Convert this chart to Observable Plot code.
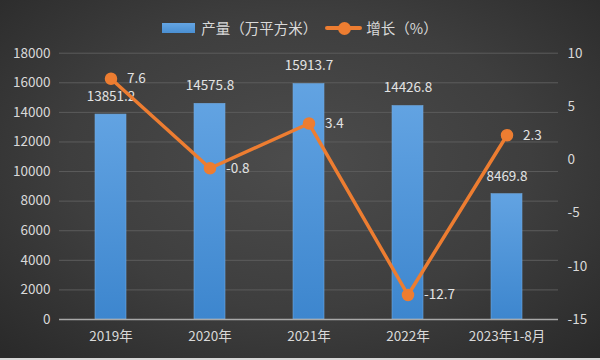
<!DOCTYPE html>
<html>
<head>
<meta charset="utf-8">
<script src="https://cdn.jsdelivr.net/npm/d3@7"></script>
<script src="https://cdn.jsdelivr.net/npm/@observablehq/plot@0.6"></script>
<style>
  html, body { margin: 0; padding: 0; }
  #chart {
    width: 600px; height: 360px; position: relative; overflow: hidden;
    background: radial-gradient(ellipse 70% 75% at 50% 45%, #4c4c4c 0%, #3e3e3e 55%, #2a2a2a 100%);
    font-family: "Noto Sans CJK SC", "Noto Sans", sans-serif;
    color: #d9d9d9;
    box-sizing: border-box;
    border-bottom: 2px solid #d8d8d8;
  }
  #legend {
    height: 40px; box-sizing: border-box; padding-top: 16px;
    display: flex; justify-content: center; align-items: center;
    font-size: 14.5px; line-height: 16px; color: #d9d9d9;
  }
  .item { display: flex; align-items: center; }
  .sw-bar { width: 33px; height: 10px; background: linear-gradient(#64a5e3, #4a8fd2); margin-right: 6px; }
  .sw-line { position: relative; width: 37px; height: 4px; background: #ed7d31; margin: 0 4px 0 8px; border-radius: 2px; }
  .sw-line::after { content: ""; position: absolute; left: 12.5px; top: -4.5px; width: 13px; height: 13px; border-radius: 50%; background: #ed7d31; }
  #plot svg { display: block; }
</style>
</head>
<body>
<div id="chart">
  <div id="legend">
    <div class="item"><div class="sw-bar"></div><span>产量（万平方米）</span></div>
    <div class="item"><div class="sw-line"></div><span>增长（%）</span></div>
  </div>
  <div id="plot"></div>
</div>
<script>
const categories = ["2019年", "2020年", "2021年", "2022年", "2023年1-8月"];
const output = [13851.2, 14575.8, 15913.7, 14426.8, 8469.8];
const growth = [7.6, -0.8, 3.4, -12.7, 2.3];
const leftTicks = [0, 2000, 4000, 6000, 8000, 10000, 12000, 14000, 16000, 18000];
const rightTicks = [-15, -10, -5, 0, 5, 10];
const leftDomain = [0, 18000];
const rightDomain = [-15, 10];

// map growth (right axis) onto the left-axis value space
const toLeft = v => (v - rightDomain[0]) / (rightDomain[1] - rightDomain[0]) * (leftDomain[1] - leftDomain[0]) + leftDomain[0];
const fromLeft = v => (v - leftDomain[0]) / (leftDomain[1] - leftDomain[0]) * (rightDomain[1] - rightDomain[0]) + rightDomain[0];

const data = categories.map((c, i) => ({cat: c, output: output[i], growth: growth[i], g: toLeft(growth[i])}));

const chart = Plot.plot({
  width: 600,
  height: 320,
  marginTop: 12.7,
  marginBottom: 41,
  marginLeft: 59,
  marginRight: 42,
  style: {background: "transparent", color: "#d9d9d9", fontFamily: "'Noto Sans CJK SC', 'Noto Sans', sans-serif", fontSize: "13.5px"},
  x: {domain: categories, paddingInner: 0.69, paddingOuter: 0.345, axis: null, label: null},
  y: {domain: leftDomain, axis: null, label: null},
  marks: [
    Plot.ruleY(leftTicks.filter(t => t > 0), {stroke: "#5c5c5c", strokeWidth: 1}),
    Plot.barY(data, {x: "cat", y: "output", fill: "url(#barGrad)", stroke: "#6fa9df", strokeWidth: 0.6}),
    Plot.ruleY([0], {stroke: "#a8a8a8", strokeWidth: 1.6}),
    Plot.axisY(leftTicks, {anchor: "left", tickSize: 0, tickPadding: 9, label: null, tickFormat: d => String(d), fill: "#d9d9d9", fontSize: 13.5}),
    Plot.axisY(rightTicks.map(toLeft), {anchor: "right", tickSize: 0, tickPadding: 9, label: null, tickFormat: d => String(Math.round(fromLeft(d))), fill: "#d9d9d9", fontSize: 13.5}),
    Plot.axisX(categories, {anchor: "bottom", tickSize: 0, tickPadding: 12, label: null, fill: "#d9d9d9", fontSize: 13.5}),
    Plot.text(data, {x: "cat", y: "output", text: d => d.output.toFixed(1), dy: -18, fill: "#e3e3e3", fontSize: 13.5}),
    Plot.line(data, {x: "cat", y: "g", stroke: "#ed7d31", strokeWidth: 3.5}),
    Plot.dot(data, {x: "cat", y: "g", r: 5.5, fill: "#ed7d31", stroke: "#ed7d31"}),
    Plot.text(data, {x: "cat", y: "g", text: d => String(d.growth), dx: 16, textAnchor: "start", fill: "#e3e3e3", fontSize: 13.5})
  ]
});

const ns = "http://www.w3.org/2000/svg";
const defs = document.createElementNS(ns, "defs");
defs.innerHTML = '<linearGradient id="barGrad" x1="0" y1="0" x2="0" y2="1">' +
  '<stop offset="0%" stop-color="#62a3e2"/>' +
  '<stop offset="100%" stop-color="#3d86ce"/></linearGradient>';
chart.insertBefore(defs, chart.firstChild);
document.getElementById("plot").appendChild(chart);
</script>
</body>
</html>
